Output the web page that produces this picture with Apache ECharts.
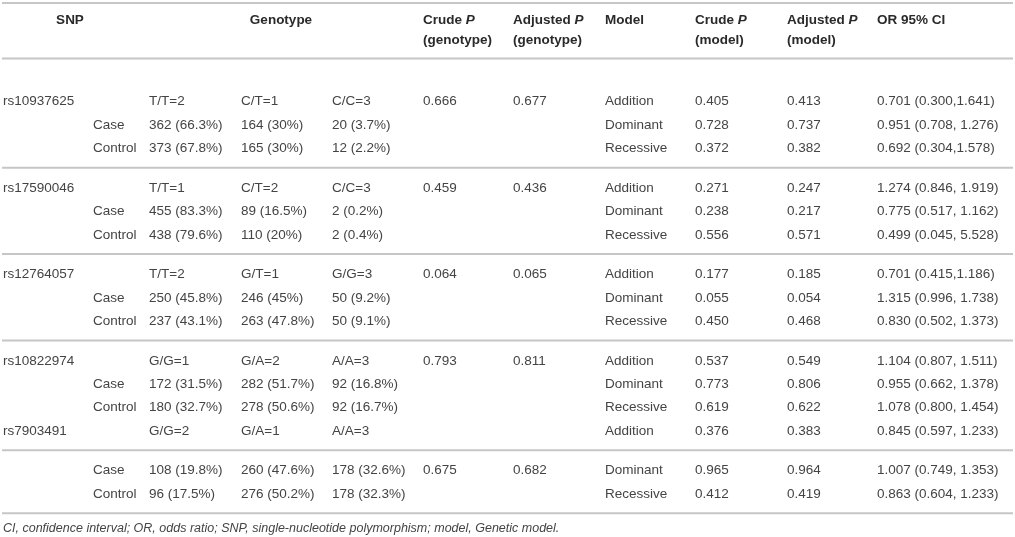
<!DOCTYPE html>
<html>
<head>
<meta charset="utf-8">
<script src="https://cdn.jsdelivr.net/npm/echarts@6/dist/echarts.min.js"></script>
<style>
  html, body { margin: 0; padding: 0; background: #fff; }
  #table { width: 1015px; height: 537px; }
</style>
</head>
<body>
<div id="table"></div>
<script>
// column texts, one entry per body row ('' = empty cell)
const snpCol = ['rs10937625', '', '', 'rs17590046', '', '', 'rs12764057', '', '', 'rs10822974', '', '', 'rs7903491', '', ''];
const groupCol = ['', 'Case', 'Control', '', 'Case', 'Control', '', 'Case', 'Control', '', 'Case', 'Control', '', 'Case', 'Control'];
const genotype1 = ['T/T=2', '362 (66.3%)', '373 (67.8%)', 'T/T=1', '455 (83.3%)', '438 (79.6%)', 'T/T=2', '250 (45.8%)', '237 (43.1%)', 'G/G=1', '172 (31.5%)', '180 (32.7%)', 'G/G=2', '108 (19.8%)', '96 (17.5%)'];
const genotype2 = ['C/T=1', '164 (30%)', '165 (30%)', 'C/T=2', '89 (16.5%)', '110 (20%)', 'G/T=1', '246 (45%)', '263 (47.8%)', 'G/A=2', '282 (51.7%)', '278 (50.6%)', 'G/A=1', '260 (47.6%)', '276 (50.2%)'];
const genotype3 = ['C/C=3', '20 (3.7%)', '12 (2.2%)', 'C/C=3', '2 (0.2%)', '2 (0.4%)', 'G/G=3', '50 (9.2%)', '50 (9.1%)', 'A/A=3', '92 (16.8%)', '92 (16.7%)', 'A/A=3', '178 (32.6%)', '178 (32.3%)'];
const crudePGenotype = ['0.666', '', '', '0.459', '', '', '0.064', '', '', '0.793', '', '', '', '0.675', ''];
const adjPGenotype = ['0.677', '', '', '0.436', '', '', '0.065', '', '', '0.811', '', '', '', '0.682', ''];
const modelCol = ['Addition', 'Dominant', 'Recessive', 'Addition', 'Dominant', 'Recessive', 'Addition', 'Dominant', 'Recessive', 'Addition', 'Dominant', 'Recessive', 'Addition', 'Dominant', 'Recessive'];
const crudePModel = ['0.405', '0.728', '0.372', '0.271', '0.238', '0.556', '0.177', '0.055', '0.450', '0.537', '0.773', '0.619', '0.376', '0.965', '0.412'];
const adjPModel = ['0.413', '0.737', '0.382', '0.247', '0.217', '0.571', '0.185', '0.054', '0.468', '0.549', '0.806', '0.622', '0.383', '0.964', '0.419'];
const orCI = ['0.701 (0.300,1.641)', '0.951 (0.708, 1.276)', '0.692 (0.304,1.578)', '1.274 (0.846, 1.919)', '0.775 (0.517, 1.162)', '0.499 (0.045, 5.528)', '0.701 (0.415,1.186)', '1.315 (0.996, 1.738)', '0.830 (0.502, 1.373)', '1.104 (0.807, 1.511)', '0.955 (0.662, 1.378)', '1.078 (0.800, 1.454)', '0.845 (0.597, 1.233)', '1.007 (0.749, 1.353)', '0.863 (0.604, 1.233)'];
// rows per ruled block
const groupSizes = [3, 3, 3, 4, 2];

// header: [line 1, line 2]; {i|..} is italic
const headers = [
  ['SNP', ''], ['Genotype', ''], ['Crude {i|P}', '(genotype)'], ['Adjusted {i|P}', '(genotype)'],
  ['Model', ''], ['Crude {i|P}', '(model)'], ['Adjusted {i|P}', '(model)'], ['OR 95% CI', '']
];
const footnote = 'CI, confidence interval; OR, odds ratio; SNP, single-nucleotide polymorphism; model, Genetic model.';

// layout (pixel units of the hidden axes)
const W = 1015, H = 537;
const colX = [3, 93, 149, 241, 332, 423, 513, 605, 695, 787, 877];
const headerX = [{x: 70, align: 'center'}, {x: 281, align: 'center'}, {x: 423}, {x: 513}, {x: 605}, {x: 695}, {x: 787}, {x: 877}];
const headLineY = [20, 40];
const firstRowY = 101.7, rowPitch = 23.4, groupGap = 39.6, ruleAfterRow = 19.2;
const topRules = [3, 58.5];
const footY = 529;

const columns = [snpCol, groupCol, genotype1, genotype2, genotype3, crudePGenotype, adjPGenotype, modelCol, crudePModel, adjPModel, orCI];

// row y positions and rules
const rowY = [];
const rules = topRules.slice();
let y = firstRowY;
groupSizes.forEach(function (n) {
  for (let i = 0; i < n; i++) {
    rowY.push(y);
    if (i < n - 1) y += rowPitch;
  }
  rules.push(y + ruleAfterRow);
  y += groupGap;
});

// cells: {x, y, text, kind}
const cells = [];
headers.forEach(function (h, i) {
  h.forEach(function (t, k) {
    if (t) cells.push({x: headerX[i].x, y: headLineY[k], text: t, kind: 'head', align: headerX[i].align || 'left'});
  });
});
columns.forEach(function (col, c) {
  col.forEach(function (t, r) {
    if (t) cells.push({x: colX[c], y: rowY[r], text: t, kind: 'body', align: 'left'});
  });
});
cells.push({x: colX[0], y: footY, text: footnote, kind: 'foot', align: 'left'});

const FAMILY = '"Liberation Sans", Arial, sans-serif';
const styles = {
  head: {font: 'bold 13.5px ' + FAMILY, fill: '#2a2a2a'},
  body: {font: '13.5px ' + FAMILY, fill: '#444'},
  foot: {font: 'italic 12.5px ' + FAMILY, fill: '#444'}
};

const chart = echarts.init(document.getElementById('table'));
chart.setOption({
  backgroundColor: '#fff',
  animation: false,
  grid: {left: 0, right: 0, top: 0, bottom: 0},
  xAxis: {type: 'value', min: 0, max: W, show: false},
  yAxis: {type: 'value', min: 0, max: H, inverse: true, show: false},
  series: [
    {
      type: 'custom',
      name: 'rules',
      data: rules.map(function (v) { return [0, v]; }),
      renderItem: function (params, api) {
        const a = api.coord([2, api.value(1)]);
        const b = api.coord([1013, api.value(1)]);
        return {
          type: 'line',
          shape: {x1: a[0], y1: a[1], x2: b[0], y2: b[1]},
          style: {stroke: '#c6c6c6', lineWidth: 2}
        };
      }
    },
    {
      type: 'custom',
      name: 'cells',
      data: cells.map(function (c) { return [c.x, c.y]; }),
      renderItem: function (params, api) {
        const c = cells[params.dataIndex];
        const p = api.coord([api.value(0), api.value(1)]);
        const s = styles[c.kind];
        return {
          type: 'text',
          x: p[0],
          y: p[1],
          style: {
            text: c.text,
            font: s.font,
            fill: s.fill,
            align: c.align,
            verticalAlign: 'middle',
            rich: {i: {fontStyle: 'italic', fontWeight: 'bold', fontSize: 13.5, fontFamily: FAMILY, fill: s.fill}}
          }
        };
      }
    }
  ]
});
</script>
</body>
</html>
